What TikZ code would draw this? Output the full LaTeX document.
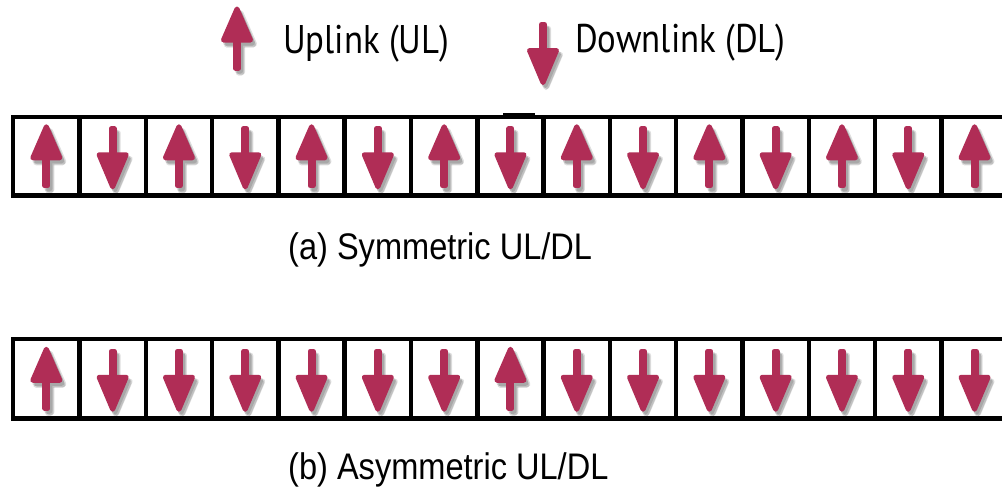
\documentclass[tikz,border=0pt]{standalone}
\usepackage{fontspec}
\newfontfamily\capfont[FakeStretch=0.88]{Liberation Sans}
\newfontfamily\legfont[FakeStretch=0.87]{PT Sans}
\definecolor{arr}{RGB}{176,45,86}
\tikzset{
  x=1pt, y=-1pt,
  cell/.style={draw=black, line width=4.5pt, minimum width=66.3pt, minimum height=#1, inner sep=0pt, outer sep=0pt},
  arrowbody/.style={fill=#1, draw=#1, line width=5pt, line join=round},
  captext/.style={anchor=base west, inner sep=0pt, font=\capfont\fontsize{37}{42}\selectfont},
  legtext/.style={anchor=base west, inner sep=0pt, font=\legfont\fontsize{40}{46}\selectfont},
  pics/uparrow/.style={code={
    \foreach \dx/\dy in {2/3,3/5,4/4}{
      \begin{scope}[shift={(\dx,\dy)}, transparency group, opacity=0.13]
        \filldraw[arrowbody=black] (-1.5,-5) rectangle (1.5,29.5);
        \filldraw[arrowbody=black] (0,-29.5) -- (13.5,1.5) -- (-13.5,1.5) -- cycle;
      \end{scope}}
    \filldraw[arrowbody=arr] (-1.5,-5) rectangle (1.5,29.5);
    \filldraw[arrowbody=arr] (0,-29.5) -- (13.5,1.5) -- (-13.5,1.5) -- cycle;
  }},
  pics/downarrow/.style={code={
    \foreach \dx/\dy in {2/3,3/5,4/4}{
      \begin{scope}[shift={(\dx,\dy)}, transparency group, opacity=0.13]
        \filldraw[arrowbody=black] (-1.5,-27.5) rectangle (1.5,5);
        \filldraw[arrowbody=black] (0,30.5) -- (13.5,-1.5) -- (-13.5,-1.5) -- cycle;
      \end{scope}}
    \filldraw[arrowbody=arr] (-1.5,-27.5) rectangle (1.5,5);
    \filldraw[arrowbody=arr] (0,30.5) -- (13.5,-1.5) -- (-13.5,-1.5) -- cycle;
  }}
}
\begin{document}
\begin{tikzpicture}
  \fill[white] (0,0) rectangle (1002,488);
  \useasboundingbox (0,0) rectangle (1002,488);
  % legend
  \pic at (237,38.5) {uparrow};
  \node[legtext] (ul) at (283,53) {Uplink (UL)};
  \pic at (543,52) {downarrow};
  \node[legtext] (dl) at (575,52) {Downlink (DL)};
  % row (a)
  \foreach \i in {0,...,14}{
    \node[cell=78.5pt] (a\i) at ({46.35+66.3*\i},156.25) {};
  }
  \draw[line width=3pt] (503,114.5) -- (535,114.5);
  \foreach \i in {0,2,...,14}{ \pic at (a\i) {uparrow}; }
  \foreach \i in {1,3,...,13}{ \pic at (a\i) {downarrow}; }
  \node[captext] (capa) at (288,259) {(a) Symmetric UL/DL};
  % row (b)
  \foreach \i in {0,...,14}{
    \node[cell=79.5pt] (b\i) at ({46.35+66.3*\i},378.75) {};
  }
  \foreach \i in {0,7}{ \pic at (b\i) {uparrow}; }
  \foreach \i in {1,2,3,4,5,6,8,9,10,11,12,13,14}{ \pic at (b\i) {downarrow}; }
  \node[captext] (capb) at (288,479) {(b) Asymmetric UL/DL};
\end{tikzpicture}
\end{document}
